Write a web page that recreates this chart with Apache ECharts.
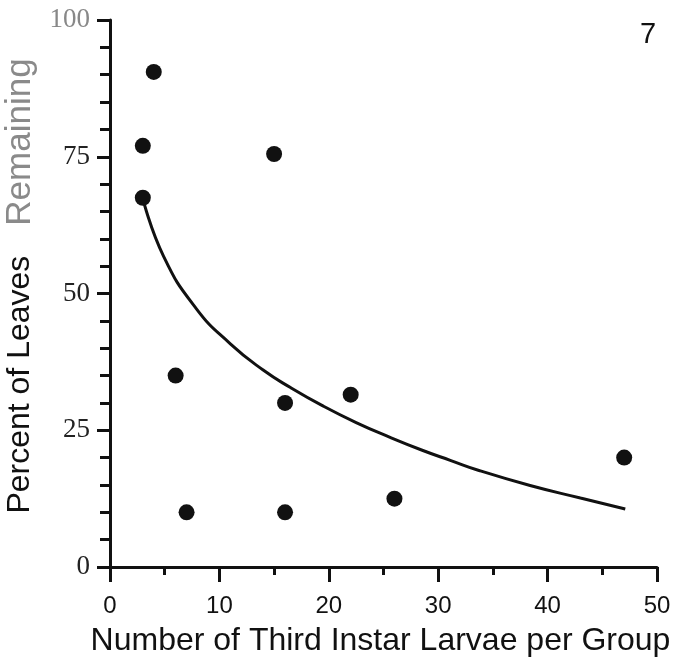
<!DOCTYPE html>
<html>
<head>
<meta charset="utf-8">
<script src="https://cdn.jsdelivr.net/npm/echarts@6/dist/echarts.min.js"></script>
<style>
  html, body { margin: 0; padding: 0; background: #fff; }
  #chart { width: 681px; height: 665px; }
</style>
</head>
<body>
<div id="chart"></div>
<script>
// observed groups
const larvae = [4, 3, 3, 15, 6, 7, 16, 16, 22, 26, 47]
const leaves = [90.5, 77, 67.5, 75.5, 35, 10, 30, 10, 31.5, 12.5, 20]

// fitted curve
const fitX = [3, 4.9, 7.9, 11, 14, 16.5, 19.5, 22.5, 25.6, 28.6, 31.1, 33.8, 38.4, 43, 47.1]
const fitY = [67.4, 56.8, 47.2, 40.8, 36.0, 32.8, 29.4, 26.4, 23.7, 21.3, 19.5, 17.6, 14.9, 12.6, 10.6]

const xTicks = [0, 10, 20, 30, 40, 50]
const yTicks = [0, 25, 50, 75, 100]

const chart = echarts.init(document.getElementById('chart'))

const axisColor = '#111'

chart.setOption({
    animation: false,
    backgroundColor: '#fff',
    title: {
        text: '7',
        left: 635,
        top: 15,
        textStyle: {fontFamily: 'Liberation Sans', fontSize: 29, fontWeight: 'normal', color: '#111'}
    },
    grid: {left: 110, right: 24, top: 20, bottom: 98, outerBoundsMode: 'none'},
    xAxis: {
        type: 'value',
        min: xTicks[0],
        max: xTicks[xTicks.length - 1],
        interval: 10,
        name: 'Number of Third Instar Larvae per Group',
        nameLocation: 'middle',
        nameGap: 58,
        nameTextStyle: {fontFamily: 'Liberation Sans', fontSize: 32, color: '#111', padding: [0, 0, 0, -6]},
        axisLine: {lineStyle: {color: axisColor, width: 3}},
        axisTick: {length: 15, lineStyle: {color: axisColor, width: 3}},
        minorTick: {show: true, splitNumber: 2, length: 8, lineStyle: {color: axisColor, width: 3}},
        splitLine: {show: false},
        axisLabel: {
            margin: 27,
            fontFamily: 'Liberation Sans',
            fontSize: 24,
            color: '#111'
        }
    },
    yAxis: {
        type: 'value',
        min: yTicks[0],
        max: yTicks[yTicks.length - 1],
        interval: 25,
        name: '{a|Percent of Leaves}{c|Remaining}',
        nameLocation: 'middle',
        nameGap: 72,
        nameTextStyle: {
            padding: [0, 0, 0, 15],
            rich: {
                a: {fontFamily: 'Liberation Sans', fontSize: 32, color: '#111'},
                c: {fontFamily: 'Liberation Sans', fontSize: 35, color: '#8a8a8a', padding: [0, 0, 0, 30]}
            }
        },
        axisLine: {show: true, lineStyle: {color: axisColor, width: 3}},
        axisTick: {show: true, length: 13, lineStyle: {color: axisColor, width: 3}},
        minorTick: {show: true, splitNumber: 5, length: 10, lineStyle: {color: axisColor, width: 3}},
        splitLine: {show: false},
        axisLabel: {
            margin: 20,
            fontFamily: 'Liberation Serif',
            fontSize: 27,
            color: (v) => (v == 100 ? '#888' : '#222')
        }
    },
    series: [
        {
            type: 'line',
            data: fitX.map((x, i) => [x, fitY[i]]),
            smooth: 0.5,
            showSymbol: false,
            lineStyle: {color: '#111', width: 3},
            z: 2
        },
        {
            type: 'scatter',
            data: larvae.map((x, i) => [x, leaves[i]]),
            symbolSize: 16,
            itemStyle: {color: '#111', opacity: 1},
            z: 3
        }
    ]
})
</script>
</body>
</html>
